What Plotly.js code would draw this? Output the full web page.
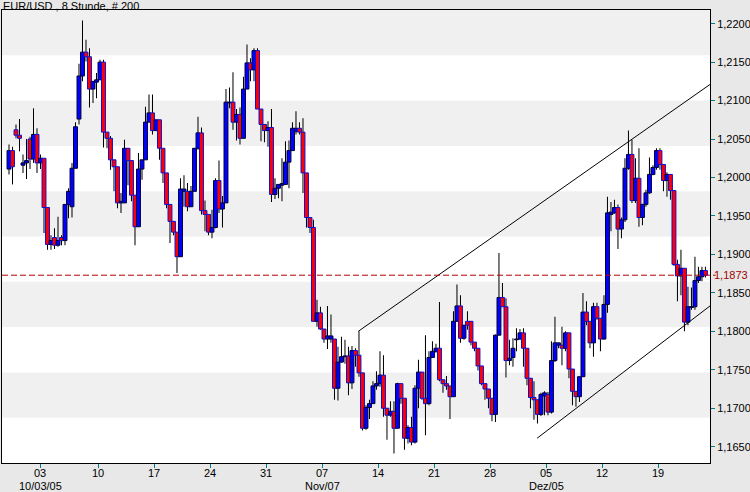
<!DOCTYPE html>
<html>
<head>
<meta charset="utf-8">
<script src="https://cdn.plot.ly/plotly-3.0.1.min.js"></script>
<style>html,body{margin:0;padding:0;background:#e8e8e8;}#chart{width:750px;height:492px;}</style>
</head>
<body>
<div id="chart"></div>
<script>
// EUR/USD, 8-hour candles, 200 bars
const openP = [1.2011,1.2035,1.2062,1.2055,1.2016,1.2019,1.2050,1.2024,1.2056,1.2019,
1.2025,1.1961,1.1913,1.1922,1.1912,1.1922,1.1918,1.1965,1.1962,1.2012,
1.2076,1.2132,1.2163,1.2157,1.2115,1.2124,1.2127,1.2150,1.2059,1.2051,
1.2023,1.2014,1.1967,1.1967,1.2038,1.2022,1.1977,1.1936,1.2011,1.2023,
1.2072,1.2084,1.2061,1.2075,1.2038,1.2006,1.1965,1.1943,1.1929,1.1897,
1.1982,1.1982,1.1962,1.1982,1.2038,1.2058,1.1957,1.1952,1.1929,1.1935,
1.1996,1.1959,1.1967,1.2097,1.2098,1.2072,1.2082,1.2051,1.2115,1.2149,
1.2140,1.2165,1.2089,1.2069,1.2061,1.2065,1.1978,1.1986,1.1990,1.1991,
1.2020,1.2035,1.2060,1.2064,1.2059,1.2006,1.1948,1.1935,1.1813,1.1824,
1.1803,1.1790,1.1790,1.1790,1.1726,1.1760,1.1767,1.1768,1.1733,1.1775,
1.1769,1.1746,1.1674,1.1701,1.1706,1.1729,1.1732,1.1743,1.1700,1.1691,
1.1696,1.1674,1.1732,1.1713,1.1661,1.1675,1.1656,1.1726,1.1747,1.1713,
1.1706,1.1766,1.1774,1.1778,1.1737,1.1732,1.1729,1.1715,1.1813,1.1833,
1.1791,1.1813,1.1813,1.1786,1.1778,1.1755,1.1732,1.1725,1.1713,1.1692,
1.1795,1.1844,1.1832,1.1762,1.1766,1.1789,1.1790,1.1798,1.1778,1.1739,
1.1714,1.1711,1.1692,1.1716,1.1718,1.1695,1.1762,1.1782,1.1782,1.1778,
1.1798,1.1751,1.1722,1.1715,1.1741,1.1825,1.1813,1.1785,1.1832,1.1817,
1.1790,1.1835,1.1952,1.1954,1.1961,1.1933,1.1945,1.2012,1.2030,1.1970,
1.1999,1.1948,1.1965,1.1980,1.2004,1.2013,1.2035,1.2017,1.1996,1.2004,
1.1983,1.1887,1.1872,1.1882,1.1812,1.1831,1.1832,1.1866,1.1871,1.1879];

const highP = [1.2043,1.2040,1.2069,1.2076,1.2030,1.2050,1.2053,1.2090,1.2064,1.2030,
1.2025,1.1961,1.1925,1.1934,1.1949,1.1925,1.1965,1.1986,1.2019,1.2072,
1.2148,1.2204,1.2179,1.2168,1.2125,1.2136,1.2153,1.2153,1.2059,1.2054,
1.2023,1.2014,1.1980,1.2049,1.2038,1.2022,1.1977,1.2032,1.2023,1.2092,
1.2108,1.2108,1.2075,1.2075,1.2038,1.2006,1.1965,1.1943,1.1929,1.1999,
1.2003,1.1993,1.1989,1.2038,1.2079,1.2065,1.1970,1.1952,1.1958,1.1999,
1.2022,1.1976,1.2115,1.2117,1.2137,1.2089,1.2091,1.2131,1.2173,1.2155,
1.2168,1.2168,1.2089,1.2069,1.2073,1.2089,1.1999,1.1991,1.2025,1.2047,
1.2048,1.2072,1.2086,1.2072,1.2077,1.2006,1.1948,1.1945,1.1841,1.1832,
1.1803,1.1833,1.1822,1.1790,1.1780,1.1793,1.1789,1.1780,1.1781,1.1778,
1.1800,1.1746,1.1704,1.1711,1.1735,1.1748,1.1774,1.1769,1.1700,1.1709,
1.1709,1.1733,1.1732,1.1713,1.1678,1.1689,1.1730,1.1763,1.1747,1.1795,
1.1774,1.1787,1.1784,1.1838,1.1737,1.1742,1.1729,1.1826,1.1861,1.1847,
1.1808,1.1826,1.1813,1.1786,1.1778,1.1755,1.1732,1.1725,1.1713,1.1796,
1.1902,1.1863,1.1843,1.1789,1.1791,1.1804,1.1803,1.1804,1.1778,1.1739,
1.1735,1.1711,1.1720,1.1722,1.1721,1.1787,1.1819,1.1785,1.1806,1.1800,
1.1798,1.1751,1.1722,1.1741,1.1850,1.1839,1.1813,1.1837,1.1837,1.1817,
1.1847,1.1975,1.1968,1.1971,1.1965,1.1948,1.2025,1.2061,1.2049,1.2025,
1.2038,1.1966,1.1984,1.2026,1.2016,1.2038,1.2038,1.2017,1.2007,1.2004,
1.1983,1.1893,1.1906,1.1882,1.1858,1.1857,1.1897,1.1884,1.1884,1.1884];

const lowP = [1.2004,1.1991,1.2051,1.2034,1.2006,1.1998,1.2011,1.2019,1.2006,1.2011,
1.1928,1.1906,1.1906,1.1907,1.1910,1.1912,1.1912,1.1947,1.1948,1.2012,
1.2069,1.2125,1.2151,1.2091,1.2097,1.2103,1.2127,1.2039,1.2038,1.2010,
1.1982,1.1960,1.1954,1.1967,1.1990,1.1969,1.1912,1.1936,1.1997,1.2023,
1.2072,1.2056,1.2061,1.2023,1.1993,1.1960,1.1915,1.1925,1.1876,1.1897,
1.1962,1.1956,1.1962,1.1982,1.2036,1.1952,1.1930,1.1925,1.1921,1.1934,
1.1954,1.1935,1.1967,1.2090,1.2062,1.2048,1.2043,1.2051,1.2115,1.2125,
1.2125,1.2089,1.2047,1.2046,1.2040,1.1968,1.1972,1.1973,1.1969,1.1991,
1.1986,1.2035,1.2056,1.2056,1.1980,1.1935,1.1928,1.1813,1.1806,1.1802,
1.1785,1.1777,1.1785,1.1711,1.1710,1.1759,1.1758,1.1717,1.1725,1.1754,
1.1741,1.1671,1.1672,1.1686,1.1706,1.1724,1.1728,1.1689,1.1659,1.1689,
1.1641,1.1674,1.1706,1.1646,1.1654,1.1652,1.1654,1.1700,1.1711,1.1665,
1.1704,1.1766,1.1772,1.1735,1.1720,1.1724,1.1686,1.1715,1.1813,1.1785,
1.1789,1.1802,1.1782,1.1774,1.1749,1.1730,1.1711,1.1700,1.1683,1.1682,
1.1795,1.1832,1.1740,1.1756,1.1754,1.1774,1.1789,1.1754,1.1730,1.1700,
1.1685,1.1680,1.1690,1.1691,1.1691,1.1693,1.1760,1.1778,1.1756,1.1774,
1.1739,1.1704,1.1702,1.1708,1.1741,1.1808,1.1778,1.1767,1.1815,1.1774,
1.1789,1.1824,1.1930,1.1953,1.1907,1.1921,1.1942,1.2010,1.1967,1.1967,
1.1936,1.1938,1.1962,1.1979,1.2003,1.2010,1.2010,1.1982,1.1975,1.1971,
1.1885,1.1839,1.1847,1.1800,1.1808,1.1828,1.1828,1.1863,1.1865,1.1870];

const closeP = [1.2035,1.2014,1.2055,1.2051,1.2019,1.2022,1.2024,1.2056,1.2019,1.2025,
1.1961,1.1913,1.1918,1.1912,1.1918,1.1918,1.1965,1.1982,1.2012,1.2066,
1.2132,1.2163,1.2157,1.2115,1.2125,1.2127,1.2150,1.2059,1.2051,1.2023,
1.2014,1.1967,1.1969,1.2038,1.2022,1.1977,1.1936,1.2011,1.2023,1.2072,
1.2084,1.2061,1.2075,1.2038,1.2006,1.1965,1.1943,1.1929,1.1897,1.1985,
1.1985,1.1962,1.1982,1.2038,1.2058,1.1957,1.1952,1.1929,1.1935,1.1996,
1.1959,1.1967,1.2098,1.2098,1.2072,1.2082,1.2051,1.2115,1.2149,1.2140,
1.2165,1.2089,1.2069,1.2061,1.2065,1.1978,1.1986,1.1991,1.1992,1.2020,
1.2035,1.2064,1.2064,1.2059,1.2006,1.1948,1.1935,1.1813,1.1824,1.1803,
1.1790,1.1794,1.1794,1.1726,1.1760,1.1767,1.1768,1.1733,1.1775,1.1769,
1.1746,1.1674,1.1701,1.1706,1.1729,1.1732,1.1743,1.1700,1.1691,1.1696,
1.1674,1.1732,1.1713,1.1661,1.1675,1.1656,1.1726,1.1747,1.1713,1.1706,
1.1766,1.1774,1.1778,1.1737,1.1732,1.1729,1.1715,1.1813,1.1833,1.1791,
1.1808,1.1808,1.1786,1.1778,1.1755,1.1732,1.1725,1.1713,1.1692,1.1795,
1.1844,1.1832,1.1762,1.1765,1.1778,1.1790,1.1798,1.1778,1.1739,1.1714,
1.1711,1.1692,1.1718,1.1720,1.1695,1.1762,1.1785,1.1785,1.1778,1.1798,
1.1751,1.1722,1.1715,1.1741,1.1825,1.1813,1.1785,1.1832,1.1817,1.1790,
1.1835,1.1954,1.1955,1.1961,1.1933,1.1945,1.2012,1.2030,1.1970,1.1999,
1.1948,1.1965,1.1980,1.2004,1.2013,1.2035,1.2017,1.1996,1.2004,1.1983,
1.1887,1.1872,1.1882,1.1812,1.1832,1.1832,1.1866,1.1871,1.1879,1.1873];

// x-axis ticks (bar index positions of the week starts) and their labels
const tickPos = [8.9, 25.5, 41.5, 57.5, 73.5, 89.5, 105.5, 121.5, 137.5, 153.5, 169.5, 185.5];
const dayLabels = ["03","10","17","24","31","07","14","21","28","05","12","19"];
const dateLabels = ["10/03/05","","","","","Nov/07","","","","Dez/05","",""];

// last price line and channel trend lines (bar index, price)
const lastPrice = 1.1873;
const lastPriceLabel = "1,1873";
const upperLine = [[99.8, 1.1800], [200.3, 1.2121]];
const lowerLine = [[150.9, 1.1661], [200.3, 1.1833]];

const chartTitle = "EUR/USD , 8 Stunde, # 200";

const idx = openP.map((_, i) => i);
const bodyBase = openP.map((o, i) => Math.min(o, closeP[i]));
const bodyH = openP.map((o, i) => Math.max(Math.abs(closeP[i] - o), 0.00004));
const isUp = openP.map((o, i) => closeP[i] >= o);
const wickH = highP.map((h, i) => h - lowP[i]);

// wicks: thin black bars from low to high (drawn first)
const wicks = {
  type: 'bar', x: idx, y: wickH, base: lowP, width: 0.29,
  marker: {color: '#000000', line: {width: 0}},
  hoverinfo: 'skip', showlegend: false
};
// bodies: from open to close, drawn on top of the wicks
const bodies = {
  type: 'bar', x: idx, y: bodyH, base: bodyBase, width: 1.12,
  marker: {
    color: isUp.map(u => u ? '#0000ff' : '#ff0000'),
    line: {color: isUp.map(u => u ? '#00003a' : '#1010d0'), width: 1}
  },
  hoverinfo: 'skip', showlegend: false
};

const bands = [];
for (let k = 0; k < 5; k++) {
  bands.push({type: 'rect', xref: 'paper', yref: 'paper', x0: 0, x1: 1,
    y0: 0.1 + 0.2 * k, y1: 0.2 + 0.2 * k, fillcolor: '#f0f0f0', line: {width: 0}, layer: 'below'});
}
const shapes = bands.concat([
  {type: 'line', xref: 'x', yref: 'y', x0: upperLine[0][0], y0: upperLine[0][1], x1: upperLine[1][0], y1: upperLine[1][1],
   line: {color: '#000000', width: 1}},
  {type: 'line', xref: 'x', yref: 'y', x0: lowerLine[0][0], y0: lowerLine[0][1], x1: lowerLine[1][0], y1: lowerLine[1][1],
   line: {color: '#000000', width: 1}},
  {type: 'line', xref: 'paper', yref: 'y', x0: 0, x1: 1.008, y0: lastPrice, y1: lastPrice,
   line: {color: '#b40000', width: 1, dash: '6px,3px'}}
]);

const annotations = [{
  xref: 'paper', yref: 'y', x: 1, y: lastPrice, xanchor: 'left', yanchor: 'middle', xshift: 3,
  text: lastPriceLabel, showarrow: false, borderpad: 0, font: {size: 11, color: '#a00000'}
}];
tickPos.forEach((p, i) => {
  annotations.push({xref: 'x', yref: 'paper', x: p, y: 0, xanchor: 'center', yanchor: 'top', yshift: -3,
    text: dayLabels[i], showarrow: false, borderpad: 0, font: {size: 11, color: '#000000'}});
  if (dateLabels[i]) {
    annotations.push({xref: 'x', yref: 'paper', x: p, y: 0, xanchor: 'center', yanchor: 'top', yshift: -16,
      text: dateLabels[i], showarrow: false, borderpad: 0, font: {size: 11, color: '#000000'}});
  }
});

const layout = {
  width: 750, height: 492,
  margin: {l: 2, r: 40, t: 10, b: 29, pad: 0},
  paper_bgcolor: '#e8e8e8', plot_bgcolor: '#ffffff',
  separators: ', ',
  font: {family: 'Liberation Sans, Arial, sans-serif', size: 11, color: '#000000'},
  title: {text: chartTitle, xref: 'container', yref: 'container', x: 0.004, xanchor: 'left', y: 0.987, yanchor: 'middle',
    font: {size: 11, color: '#000000', family: 'Liberation Sans, Arial, sans-serif'}},
  showlegend: false, hovermode: false, barmode: 'overlay',
  xaxis: {
    range: [-2, 200.3], tickmode: 'array', tickvals: tickPos, showticklabels: false,
    ticks: 'outside', ticklen: 4, tickcolor: '#008080', tickwidth: 1,
    showgrid: false, zeroline: false, showline: true, mirror: true, linecolor: '#000000', linewidth: 1,
    fixedrange: true
  },
  yaxis: {
    side: 'right', range: [1.16288, 1.22178], tickmode: 'linear', tick0: 1.165, dtick: 0.005, tickformat: '.4f',
    ticks: 'outside', ticklen: 4, tickcolor: '#008080', tickwidth: 1,
    showgrid: false, zeroline: false, showline: true, mirror: true, linecolor: '#000000', linewidth: 1,
    fixedrange: true, tickfont: {size: 11}
  },
  shapes: shapes,
  annotations: annotations
};

Plotly.newPlot('chart', [wicks, bodies], layout, {staticPlot: true, displayModeBar: false});
</script>
</body>
</html>
